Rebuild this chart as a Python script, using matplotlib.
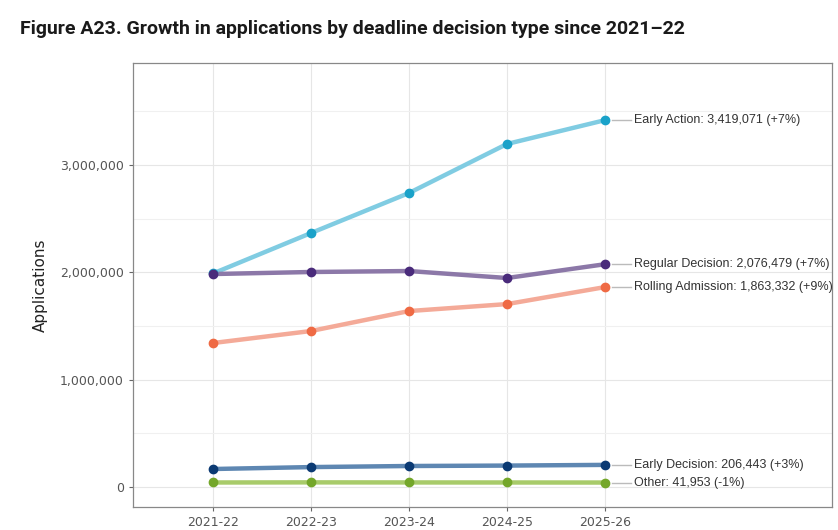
import matplotlib.pyplot as plt
from matplotlib.ticker import FuncFormatter, MultipleLocator

years = ['2021-22', '2022-23', '2023-24', '2024-25', '2025-26']

early_action = [1990000, 2367000, 2740000, 3197000, 3419071]
regular_decision = [1985000, 2004000, 2013000, 1948000, 2076479]
rolling_admission = [1342000, 1454000, 1640000, 1705000, 1863332]
early_decision = [168000, 186000, 196000, 200000, 206443]
other = [42400, 43500, 42800, 42400, 41953]

labels = ['Early Action: 3,419,071 (+7%)',
          'Regular Decision: 2,076,479 (+7%)',
          'Rolling Admission: 1,863,332 (+9%)',
          'Early Decision: 206,443 (+3%)',
          'Other: 41,953 (-1%)']

series = [early_action, regular_decision, rolling_admission, early_decision, other]
line_colors = ['#80cce2', '#8c78a8', '#f4aa98', '#5e87b2', '#a8cb6a']
dot_colors = ['#1aa2c9', '#4a2b7b', '#ef6a44', '#0b3a73', '#74a72a']

fig = plt.figure(figsize=(8.38, 5.30), dpi=100)
ax = fig.add_axes([0.1587, 0.0434, 0.8341, 0.8376])

x = list(range(len(years)))
for s, lc, dc in zip(series, line_colors, dot_colors):
    ax.plot(x, s, color=lc, lw=3.2, zorder=3, solid_capstyle='round')
    ax.plot(x, s, 'o', color=dc, ms=6, zorder=4)

# labels at the right end
for s, lab in zip(series, labels):
    ax.plot([4.07, 4.27], [s[-1], s[-1]], color='#bbbbbb', lw=1, zorder=2)
    ax.text(4.3, s[-1], lab, va='center', ha='left', fontsize=9,
            family='Liberation Sans', color='#333333')

ax.set_xlim(-0.816, 6.316)
ax.set_ylim(-186000, 3951000)
ax.set_xticks(x)
ax.set_xticklabels(years)
ax.yaxis.set_major_locator(MultipleLocator(1000000))
ax.yaxis.set_minor_locator(MultipleLocator(500000))
ax.yaxis.set_major_formatter(FuncFormatter(lambda v, p: f'{int(v):,}'))
ax.grid(True, which='major', color='#e6e6e6', lw=0.8, zorder=0)
ax.grid(True, which='minor', axis='y', color='#f0f0f0', lw=0.8, zorder=0)
ax.tick_params(which='minor', length=0)
ax.tick_params(which='major', length=3, color='#666666', labelcolor='#555555',
               labelsize=9)
for sp in ax.spines.values():
    sp.set_color('#888888')
    sp.set_linewidth(0.9)

ax.set_ylabel('Applications', fontsize=11, color='#222222', labelpad=9)

fig.text(0.024, 0.945, 'Figure A23. Growth in applications by deadline decision type since 2021\u201322',
         fontsize=14, fontweight='bold', family='Roboto', color='#1a1a1a', va='center')

fig.savefig('out.png', dpi=100)
